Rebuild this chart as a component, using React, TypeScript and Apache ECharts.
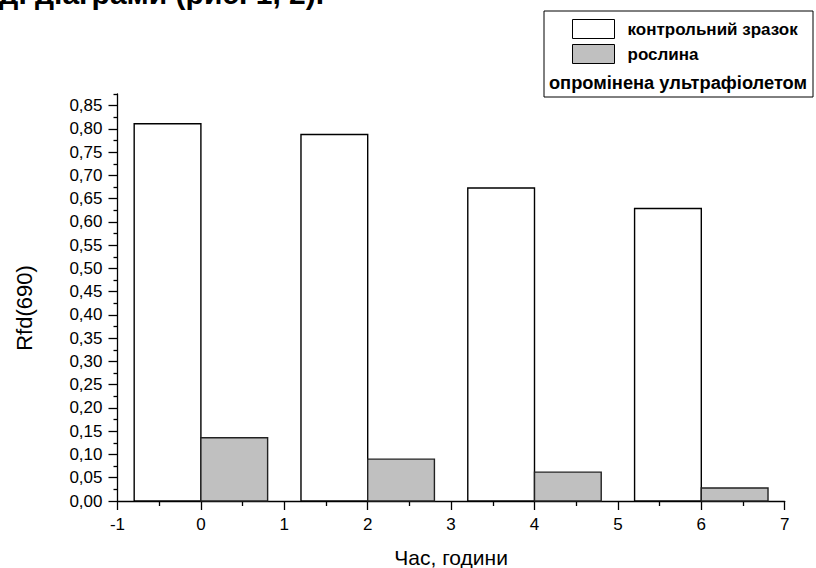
import React, { useEffect, useRef } from "react";
import * as echarts from "echarts";

const timeHours = [0, 2, 4, 6];
const controlValues = [0.811, 0.788, 0.673, 0.629];
const plantValues = [0.136, 0.09, 0.062, 0.028];
const seriesNames = ["контрольний зразок", "рослина"];
const legendNote = "опромінена ультрафіолетом";
const xAxisTitle = "Час, години";
const yAxisTitle = "Rfd(690)";
const headerText = "ід. діаграми (рис. 1, 2).";
const yMajorTicks = [0, 0.05, 0.1, 0.15, 0.2, 0.25, 0.3, 0.35, 0.4, 0.45, 0.5, 0.55, 0.6, 0.65, 0.7, 0.75, 0.8, 0.85];
const yMinorTicks = [0.025, 0.075, 0.125, 0.175, 0.225, 0.275, 0.325, 0.375, 0.425, 0.475, 0.525, 0.575, 0.625, 0.675, 0.725, 0.775, 0.825, 0.875];
const xMin = -1;
const xMax = 7;
const yMax = 0.875;
const barSpan = 0.8;

const FONT = "'Liberation Sans', Arial, sans-serif";

export default function App() {
  const ref = useRef<HTMLDivElement>(null);
  useEffect(() => {
    if (!ref.current) return;
    const chart = echarts.init(ref.current, null, { renderer: "svg" });
    const makeBars = (
      name: string,
      values: number[],
      start: number,
      fill: string,
      stroke: string
    ) => ({
      type: "custom",
      name,
      xAxisIndex: 0,
      yAxisIndex: 0,
      itemStyle: { color: fill, borderColor: stroke, borderWidth: 1.3 },
      data: timeHours.map((t, i) => [t, values[i]]),
      renderItem: (params: any, api: any) => {
        const t = api.value(0);
        const v = api.value(1);
        const p0 = api.coord([t + start, v]);
        const p1 = api.coord([t + start + barSpan, 0]);
        return {
          type: "rect",
          shape: { x: p0[0], y: p0[1], width: p1[0] - p0[0], height: p1[1] - p0[1] },
          style: { fill, stroke, lineWidth: 1.4 },
        };
      },
    });
    chart.setOption({
      animation: false,
      backgroundColor: "#ffffff",
      textStyle: { fontFamily: FONT },
      grid: { left: 117.5, right: 31.3, top: 94, bottom: 67, containLabel: false, outerBoundsMode: "none" },
      legend: {
        orient: "vertical",
        left: 572,
        top: 19,
        padding: 0,
        itemGap: 5,
        itemWidth: 42,
        itemHeight: 19,
        icon: "rect",
        selectedMode: false,
        textStyle: { fontFamily: FONT, fontSize: 17, fontWeight: "bold", color: "#000", padding: [0, 0, 0, 8] },
        data: [
          { name: seriesNames[0], itemStyle: { color: "#ffffff", borderColor: "#000", borderWidth: 1 } },
          { name: seriesNames[1], itemStyle: { color: "#c0c0c0", borderColor: "#000", borderWidth: 1 } },
        ],
      },
      graphic: [
        {
          type: "rect",
          shape: { x: 544, y: 11, width: 269, height: 86 },
          style: { fill: "none", stroke: "#000", lineWidth: 1 },
          silent: true,
        },
        {
          type: "text",
          x: 678,
          y: 82,
          style: {
            text: legendNote,
            fontFamily: FONT,
            fontSize: 18.3,
            fontWeight: "bold",
            fill: "#000",
            align: "center",
            verticalAlign: "middle",
          },
        },
        {
          type: "text",
          x: 24,
          y: 308,
          rotation: Math.PI / 2,
          style: {
            text: yAxisTitle,
            fontFamily: FONT,
            fontSize: 22,
            fill: "#000",
            align: "center",
            verticalAlign: "middle",
          },
        },
        {
          type: "text",
          x: -9,
          y: -7,
          style: {
            text: headerText,
            fontFamily: FONT,
            fontSize: 30,
            fontWeight: "bold",
            fill: "#000",
            align: "left",
            verticalAlign: "middle",
          },
        },
      ],
      xAxis: {
        type: "value",
        min: xMin,
        max: xMax,
        interval: 1,
        name: xAxisTitle,
        nameLocation: "middle",
        nameGap: 46,
        nameTextStyle: { fontFamily: FONT, fontSize: 21, color: "#000" },
        axisLine: { show: true, onZero: false, lineStyle: { color: "#000", width: 1.3 } },
        axisTick: { show: true, inside: false, length: 9, lineStyle: { color: "#000", width: 1.3 } },
        minorTick: { show: true, splitNumber: 2, length: 5, lineStyle: { color: "#000", width: 1.3 } },
        axisLabel: { fontFamily: FONT, fontSize: 17, color: "#000", margin: 15 },
        splitLine: { show: false },
        minorSplitLine: { show: false },
      },
      yAxis: [
        {
          type: "value",
          min: 0,
          max: yMax,
          interval: 0.05,
          position: "left",
          axisLine: { show: true, onZero: false, lineStyle: { color: "#000", width: 1.3 } },
          axisTick: { show: true, inside: false, length: 9, customValues: yMajorTicks, lineStyle: { color: "#000", width: 1.3 } },
          axisLabel: {
            fontFamily: FONT,
            fontSize: 17,
            color: "#000",
            margin: 15,
            customValues: yMajorTicks,
            formatter: (v: number) => v.toFixed(2).replace(".", ","),
          },
          splitLine: { show: false },
        },
        {
          type: "value",
          min: 0,
          max: yMax,
          interval: 0.05,
          position: "left",
          axisLine: { show: false, onZero: false },
          axisTick: { show: true, inside: false, length: 4, customValues: yMinorTicks, lineStyle: { color: "#000", width: 1.3 } },
          axisLabel: { show: false },
          splitLine: { show: false },
        },
      ],
      series: [
        makeBars(seriesNames[0], controlValues, -barSpan, "#ffffff", "#000000"),
        makeBars(seriesNames[1], plantValues, 0, "#c0c0c0", "#222222"),
      ],
    });
    return () => chart.dispose();
  }, []);
  return (
    <div
      ref={ref}
      style={{ position: "fixed", left: 0, top: 0, width: 816, height: 568, background: "#fff" }}
    />
  );
}
